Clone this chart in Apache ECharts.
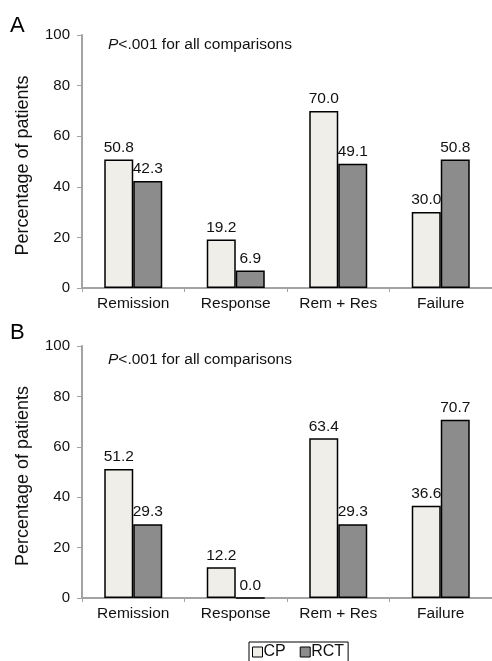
<!DOCTYPE html>
<html><head><meta charset="utf-8">
<script src="https://cdn.jsdelivr.net/npm/echarts@6/dist/echarts.min.js"></script>
<style>html,body{margin:0;padding:0;background:#fff}#c{width:492px;height:661px}</style>
</head><body><div id="c"></div>
<script>
var categories = ['Remission', 'Response', 'Rem + Res', 'Failure'];
var cpA = [50.8, 19.2, 70.0, 30.0];
var rctA = [42.3, 6.9, 49.1, 50.8];
var cpB = [51.2, 12.2, 63.4, 36.6];
var rctB = [29.3, 0.0, 29.3, 70.7];
var yTicks = [0, 20, 40, 60, 80, 100];

var FONT = 'Liberation Sans';
var axisGray = '#a3a3a3';
var chart = echarts.init(document.getElementById('c'));

function xAx(i) {
  return {
    type: 'category', gridIndex: i, data: categories,
    axisLine: {lineStyle: {color: axisGray, width: 2}},
    axisTick: {show: true, length: 4, lineStyle: {color: axisGray, width: 1}},
    axisLabel: {color: '#111', fontFamily: FONT, fontSize: 15.5, margin: 8}
  };
}
function yAx(i) {
  return {
    type: 'value', gridIndex: i, min: yTicks[0], max: yTicks[yTicks.length - 1], interval: 20,
    name: 'Percentage of patients', nameLocation: 'middle', nameGap: 50,
    nameTextStyle: {color: '#111', fontFamily: FONT, fontSize: 18, padding: [0, 0, 0, -8]},
    axisLine: {show: true, lineStyle: {color: axisGray, width: 2}},
    axisTick: {show: true, length: 5, lineStyle: {color: axisGray, width: 1}},
    splitLine: {show: false},
    axisLabel: {color: '#111', fontFamily: FONT, fontSize: 15, margin: 12}
  };
}
function bar(name, data, i, color) {
  return {
    name: name, type: 'bar', xAxisIndex: i, yAxisIndex: i, data: data,
    barWidth: 29, barGap: '0%',
    itemStyle: {color: color, borderColor: '#000', borderWidth: 1.5},
    label: {show: true, position: 'top', distance: 4, color: '#111', fontFamily: FONT, fontSize: 15.5,
      formatter: function (p) { return p.value.toFixed(1); }}
  };
}
var pText = {
  text: '{i|P}<.001 for all comparisons',
  textStyle: {fontFamily: FONT, fontSize: 15.5, fontWeight: 'normal', color: '#111',
    rich: {i: {fontFamily: FONT, fontSize: 15.5, fontStyle: 'italic', color: '#111'}}}
};
chart.setOption({
  animation: false,
  title: [
    {text: 'A', left: 5, top: 10, textStyle: {fontFamily: FONT, fontSize: 22, fontWeight: 'normal', color: '#000'}},
    {text: 'B', left: 5, top: 317, textStyle: {fontFamily: FONT, fontSize: 22, fontWeight: 'normal', color: '#000'}},
    Object.assign({left: 103, top: 32}, pText),
    Object.assign({left: 103, top: 347}, pText)
  ],
  legend: {
    data: ['CP', 'RCT'], left: 249, top: 642,
    borderColor: '#000', borderWidth: 1, padding: [2, 4, 6, 3],
    itemWidth: 10, itemHeight: 10, itemGap: 14,
    itemStyle: {borderWidth: 1},
    textStyle: {fontFamily: FONT, fontSize: 16, color: '#111', padding: [0, 0, 0, -4]},
    icon: 'rect'
  },
  grid: [
    {left: 82, top: 35, width: 410, height: 253},
    {left: 82, top: 346, width: 410, height: 252}
  ],
  xAxis: [xAx(0), xAx(1)],
  yAxis: [yAx(0), yAx(1)],
  series: [
    bar('CP', cpA, 0, '#f0eee9'),
    bar('RCT', rctA, 0, '#8c8c8c'),
    bar('CP', cpB, 1, '#f0eee9'),
    bar('RCT', rctB, 1, '#8c8c8c')
  ]
});
</script></body></html>
